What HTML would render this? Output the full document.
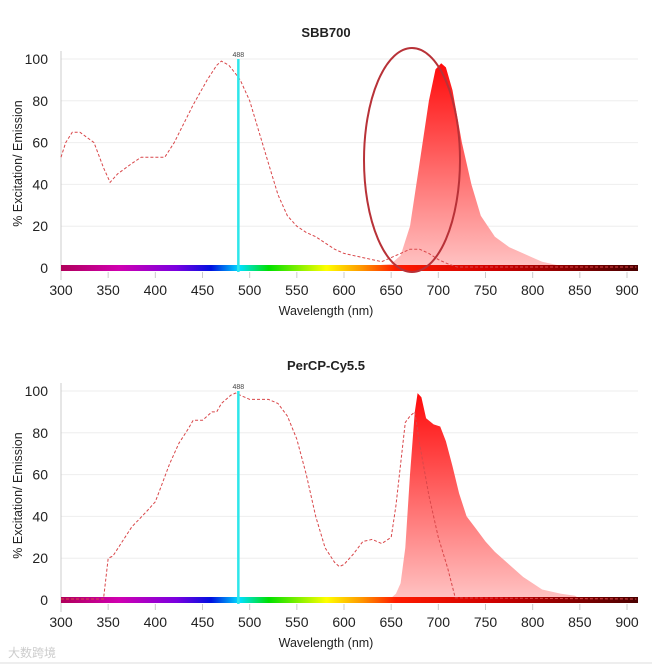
<!DOCTYPE html>
<html><head><meta charset="utf-8"><style>
body{margin:0;background:#fff;width:652px;height:664px;overflow:hidden;font-family:"Liberation Sans",sans-serif}
svg{position:absolute;left:0;top:0}
</style></head><body>
<svg id="s" width="652" height="664"></svg>
<script>
const xTicks=[300,350,400,450,500,550,600,650,700,750,800,850,900];
const yTicks=[0,20,40,60,80,100];
const laserNm=488;
const sbbExcX=[300,305,312,320,335,345,352,360,375,385,400,410,420,440,455,465,470,478,485,490,500,510,520,530,540,550,560,570,580,590,600,620,640,650,660,670,680,690,700,710,720,910];
const sbbExcY=[53,60,65,65,60,48,41,45,50,53,53,53,60,78,90,97,99,97,93,90,80,65,50,35,25,20,17,15,12,9,7,5,3,5,7,9,9,7,4,2,0.5,0.5];
const sbbEmX=[625,630,650,660,670,680,690,697,703,708,715,725,735,745,760,775,790,800,810,830,850,910];
const sbbEmY=[0,1,2,6,20,50,80,95,98,96,85,60,40,25,15,10,7,5,3,1,0.5,0.3];
const perExcX=[300,345,350,355,365,375,390,400,405,415,425,435,440,450,455,460,465,470,480,485,490,495,500,510,520,530,540,550,560,570,580,590,595,600,610,620,630,640,650,655,660,665,670,675,680,690,700,710,718,910];
const perExcY=[0.5,0.5,20,21,28,35,42,47,53,65,75,82,86,86,88,90,90,94,98,99,98,97,96,96,96,94,88,77,60,40,25,18,16,17,22,28,29,27,30,45,65,85,88,90,75,50,30,15,1,0.5];
const perEmX=[645,650,655,660,665,670,675,678,682,687,695,702,708,715,722,730,740,750,760,775,790,800,810,820,830,845,850,910];
const perEmY=[0,1,3,8,25,60,90,99,97,87,84,83,76,64,51,40,34,28,23,17,11,8,5,4,3,2,0.5,0.3];

const NS="http://www.w3.org/2000/svg";
const svg=document.getElementById('s');
function mk(t,a,p){const e=document.createElementNS(NS,t);for(const k in a)e.setAttribute(k,a[k]);(p||svg).appendChild(e);return e;}
const defs=mk('defs',{});
const g1=mk('linearGradient',{id:'em',x1:0,y1:0,x2:0,y2:1},defs);
mk('stop',{offset:'0','stop-color':'#ff0a0a'},g1);mk('stop',{offset:'1','stop-color':'#ffc4c4'},g1);
const g2=mk('linearGradient',{id:'rb',x1:0,y1:0,x2:1,y2:0},defs);
[['0','#b0005a'],['0.1','#d000b0'],['0.2','#7a00e0'],['0.26','#0010e0'],['0.31','#00e0ff'],['0.36','#00e000'],['0.46','#ffff00'],['0.52','#ff9900'],['0.58','#ff1a00'],['0.75','#d00000'],['1','#4a0000']].forEach(s=>mk('stop',{offset:s[0],'stop-color':s[1]},g2));

function chart(name,title,top,y0,y100,excX,excY,emX,emY){
  const g=mk('g',{});
  
  
  const x=v=>61+(v-300)*(566/600);
  const y=v=>y0+(y100-y0)*v/100;
  const t=mk('text',{x:326,y:top,'font-size':13,'font-weight':'bold','text-anchor':'middle',fill:'#222'},g);t.textContent=title;
  
  yTicks.forEach(v=>{
    if(v>0)mk('line',{x1:61,x2:638,y1:y(v),y2:y(v),stroke:'#eee'},g);
    const l=mk('text',{x:48,y:y(v)+5,'font-size':14,'text-anchor':'end',fill:'#222'},g);l.textContent=v;
    
  });
  mk('line',{x1:61,x2:61,y1:y100-8,y2:y0+12,stroke:'#ccc'},g);
  xTicks.forEach(v=>{
    mk('line',{x1:x(v),x2:x(v),y1:y0+4,y2:y0+10,stroke:'#ccc'},g);
    const l=mk('text',{x:x(v),y:y0+27,'font-size':14,'text-anchor':'middle',fill:'#222'},g);l.textContent=v;
    
  });
  const xt=mk('text',{x:326,y:y0+47,'font-size':12.5,'text-anchor':'middle',fill:'#222'},g);xt.textContent='Wavelength (nm)';
  
  const yc=(y0+y100)/2;
  const yt=mk('text',{x:22,y:yc,'font-size':12.5,'text-anchor':'middle',fill:'#222',transform:`rotate(-90 22 ${yc})`},g);yt.textContent='% Excitation/ Emission';
  
  let d='M'+x(emX[0])+' '+y(0);
  emX.forEach((v,i)=>d+=' L'+x(v).toFixed(1)+' '+y(emY[i]).toFixed(1));
  d+=' L'+x(emX[emX.length-1])+' '+y(0)+'Z';
  const em=mk('path',{d:d,fill:'url(#em)'},g);
  
  const rb=mk('rect',{x:61,y:y0-3,width:577,height:6,fill:'url(#rb)'},g);
  
  let pts=excX.map((v,i)=>x(v).toFixed(1)+','+y(excY[i]).toFixed(1)).join(' ');
  const ex=mk('polyline',{points:pts,fill:'none',stroke:'#d9474a','stroke-width':1,'stroke-dasharray':'3,2'},g);
  
  const ll=mk('line',{x1:x(laserNm),x2:x(laserNm),y1:y(100),y2:y0+4,stroke:'#2ee6ea','stroke-width':2.5},g);
  
  const lt=mk('text',{x:x(laserNm),y:y(100)-2,'font-size':7,'text-anchor':'middle',fill:'#444'},g);lt.textContent='488';
  
  return g;
}
chart('sbb700-chart','SBB700',37,268,59,sbbExcX,sbbExcY,sbbEmX,sbbEmY);
chart('percp-cy55-chart','PerCP-Cy5.5',370,600,391,perExcX,perExcY,perEmX,perEmY);
const el=mk('ellipse',{cx:412,cy:160,rx:48,ry:112,fill:'none',stroke:'#b83238','stroke-width':2});


const wm=mk('text',{x:8,y:657,'font-size':12,fill:'#ccc'});
wm.textContent='大数跨境';


mk('line',{x1:0,x2:652,y1:663,y2:663,stroke:'#ddd'});
</script>
</body></html>
